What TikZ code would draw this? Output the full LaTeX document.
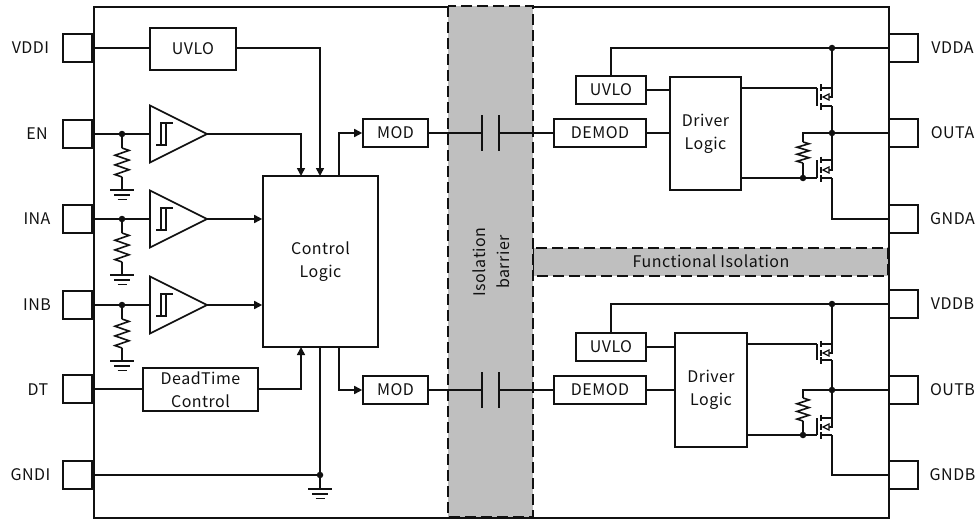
\documentclass[tikz,border=0pt]{standalone}
\usepackage{fontspec}
\setmainfont[LetterSpace=3]{Noto Sans CJK SC}
\usetikzlibrary{arrows.meta}
\definecolor{barrier}{HTML}{BFBFBF}
\definecolor{ink}{HTML}{111111}
\tikzset{
  wire/.style={draw=ink,line width=1.6pt},
  tipwire/.style={wire,-{Triangle[length=8pt,width=8pt]}},
  box/.style={draw=ink,line width=1.6pt,fill=white,inner sep=0pt,align=center,font=\fontsize{16}{23}\selectfont,text=ink},
  lbl/.style={inner sep=0pt,font=\fontsize{16}{23}\selectfont,text=ink,align=center},
  pin/.style={draw=ink,line width=1.6pt,inner sep=0pt,minimum width=29pt,minimum height=28pt},
  iso/.style={fill=barrier,draw=ink,line width=1.8pt,dash pattern=on 11pt off 5pt},
  dot/.style={circle,fill=ink,inner sep=0pt,minimum size=6.5pt}
}
% ground symbol at a named coordinate
\newcommand\gndsym[1]{%
  \draw[wire] ([xshift=-12pt]#1) -- ([xshift=12pt]#1);
  \draw[wire] ([xshift=-8pt,yshift=-5pt]#1) -- ([xshift=8pt,yshift=-5pt]#1);
  \draw[wire] ([xshift=-4.5pt,yshift=-9.5pt]#1) -- ([xshift=4.5pt,yshift=-9.5pt]#1);}
% comparator: name, centre y
\newcommand\comparator[2]{%
  \coordinate (#1in) at (150,#2);
  \coordinate (#1out) at (207,#2);
  \draw[wire,line join=miter] (150,#2-28.5) -- (207,#2) -- (150,#2+28.5) -- cycle;
  \draw[draw=ink,line width=1.3pt] (156,#2+11) -- (166,#2+11) -- (166,#2-11) -- (173,#2-11);
  \draw[draw=ink,line width=1.3pt] (161,#2+11) -- (161,#2-11) -- (166,#2-11);}
% resistor: x, top y, height, half width
\newcommand\vresistor[4]{%
  \draw[wire,line join=miter] (#1,#2) -- (#1+#4,#2+#3/12) -- (#1-#4,#2+#3*3/12) -- (#1+#4,#2+#3*5/12)
   -- (#1-#4,#2+#3*7/12) -- (#1+#4,#2+#3*9/12) -- (#1-#4,#2+#3*11/12) -- (#1,#2+#3);}
% mosfet: drain y, mid y, source y
\newcommand\mosfet[3]{%
  \draw[wire] (817,#1) -- (817,#3);
  \draw[wire] (821,#1-3.5) -- (821,#1+3);
  \draw[wire] (821,#2-3) -- (821,#2+3);
  \draw[wire] (821,#3-3) -- (821,#3+3.5);
  \draw[wire] (821,#1) -- (832,#1);
  \draw[wire] (821,#3) -- (832,#3);
  \draw[wire] (829,#2) -- (832,#2) -- (832,#1);
  \draw[draw=ink,line width=1.2pt,fill=white] (823,#2) -- (829,#2-3) -- (829,#2+3) -- cycle;}
\begin{document}
\begin{tikzpicture}[x=1pt,y=-1pt]
\useasboundingbox (0,0) rectangle (980,519);
% package outline and pins
\node[pin,anchor=east] (pVDDI) at (93,48) {};
\node[pin,anchor=east] (pEN) at (93,134) {};
\node[pin,anchor=east] (pINA) at (93,219) {};
\node[pin,anchor=east] (pINB) at (93,305) {};
\node[pin,anchor=east] (pDT) at (93,389) {};
\node[pin,anchor=east] (pGNDI) at (93,475) {};
\node[pin,anchor=west] (pVDDA) at (888,48) {};
\node[pin,anchor=west] (pOUTA) at (888,133) {};
\node[pin,anchor=west] (pGNDA) at (888,219) {};
\node[pin,anchor=west] (pVDDB) at (888,304) {};
\node[pin,anchor=west] (pOUTB) at (888,390) {};
\node[pin,anchor=west] (pGNDB) at (888,475) {};
\node[draw=ink,line width=1.6pt,fill=white,inner sep=0pt,minimum width=795pt,minimum height=511pt,anchor=north west] (pkg) at (93,6) {};
% barriers
\path[iso] (533,248) rectangle (888,276);
\path[iso] (448,6) rectangle (533,517);
% pin labels
\node[lbl] at (30.5,48) {VDDI};
\node[lbl] at (37,134) {EN};
\node[lbl] at (37,219) {INA};
\node[lbl] at (37,305) {INB};
\node[lbl] at (38,390) {DT};
\node[lbl] at (30.5,475) {GNDI};
\node[lbl] at (952.5,48) {VDDA};
\node[lbl] at (952.5,133) {OUTA};
\node[lbl] at (952.5,219) {GNDA};
\node[lbl] at (952.5,304) {VDDB};
\node[lbl] at (952.5,390) {OUTB};
\node[lbl] at (952.5,475) {GNDB};
\node[lbl] at (711,261) {Functional Isolation};
\node[lbl,rotate=90,font=\fontsize{16}{24}\selectfont] at (491,262) {Isolation\\barrier};
% blocks
\node[box,minimum width=86pt,minimum height=42pt] (uvloL) at (193,49) {UVLO};
\node[box,minimum width=115pt,minimum height=171pt] (ctrl) at (320.5,261.5) {Control\\Logic};
\node[box,minimum width=115pt,minimum height=43pt] (dead) at (200.5,389.5) {DeadTime\\Control};
\node[box,minimum width=65pt,minimum height=28pt] (modA) at (395.5,133) {MOD};
\node[box,minimum width=65pt,minimum height=28pt] (modB) at (395.5,390) {MOD};
\node[box,minimum width=92pt,minimum height=28pt] (demodA) at (600,133) {DEMOD};
\node[box,minimum width=92pt,minimum height=28pt] (demodB) at (600,390) {DEMOD};
\node[box,minimum width=70pt,minimum height=28pt] (uvloA) at (611,90) {UVLO};
\node[box,minimum width=70pt,minimum height=28pt] (uvloB) at (611,347) {UVLO};
\node[box,minimum width=71pt,minimum height=113pt] (drvA) at (705.5,133.5) {Driver\\Logic};
\node[box,minimum width=72pt,minimum height=114pt] (drvB) at (711,390) {Driver\\Logic};
% comparators
\comparator{cmpEN}{134}
\comparator{cmpINA}{219}
\comparator{cmpINB}{305}
% junctions and connector ends
\coordinate (inVDDI) at (93,48);
\coordinate (inEN) at (93,134);
\coordinate (inINA) at (93,219);
\coordinate (inINB) at (93,305);
\coordinate (inDT) at (93,389);
\coordinate (inGNDI) at (93,475);
\coordinate (outVDDA) at (888,48);
\coordinate (outOUTA) at (888,133);
\coordinate (outGNDA) at (888,219);
\coordinate (outVDDB) at (888,304);
\coordinate (outOUTB) at (888,390);
\coordinate (outGNDB) at (888,475);
\node[dot] (jEN) at (122,134) {};
\node[dot] (jINA) at (122,219) {};
\node[dot] (jINB) at (122,305) {};
\node[dot] (jGNDI) at (320,475) {};
\node[dot] (jVDDA) at (832,48) {};
\node[dot] (jOUTA) at (832,133) {};
\node[dot] (jGA) at (803,178) {};
\node[dot] (jVDDB) at (832,304) {};
\node[dot] (jOUTB) at (832,390) {};
\node[dot] (jGB) at (803,435) {};
\coordinate (gEN) at (122,190);
\coordinate (gINA) at (122,275);
\coordinate (gINB) at (122,361);
\coordinate (gCtrl) at (320,489);
\coordinate (ctrlTopA) at (301,176);
\coordinate (ctrlTopB) at (320,176);
\coordinate (ctrlTopC) at (339,176);
\coordinate (ctrlBotA) at (301,347);
\coordinate (ctrlBotB) at (320,347);
\coordinate (ctrlBotC) at (339,347);
\coordinate (capA1) at (482,133);
\coordinate (capA2) at (499,133);
\coordinate (capB1) at (482,390);
\coordinate (capB2) at (499,390);
% left inputs
\draw[wire] (inEN) -- (jEN) -- (cmpENin);
\draw[wire] (inINA) -- (jINA) -- (cmpINAin);
\draw[wire] (inINB) -- (jINB) -- (cmpINBin);
\draw[wire] (jEN) -- (122,148); \vresistor{122}{148}{29}{7} \draw[wire] (122,177) -- (gEN); \gndsym{gEN}
\draw[wire] (jINA) -- (122,233); \vresistor{122}{233}{29}{7} \draw[wire] (122,262) -- (gINA); \gndsym{gINA}
\draw[wire] (jINB) -- (122,319); \vresistor{122}{319}{29}{7} \draw[wire] (122,348) -- (gINB); \gndsym{gINB}
\draw[wire] (inVDDI) -- (uvloL.west |- inVDDI);
\draw[wire] (inDT) -- (dead.west |- inDT);
% into control logic
\draw[tipwire] (uvloL.east |- inVDDI) -| (ctrlTopB);
\draw[tipwire] (cmpENout) -| (ctrlTopA);
\draw[tipwire] (cmpINAout) -- (ctrl.west |- cmpINAout);
\draw[tipwire] (cmpINBout) -- (ctrl.west |- cmpINBout);
\draw[tipwire] (dead.east |- inDT) -| (ctrlBotA);
\draw[wire] (ctrlBotB) -- (gCtrl); \gndsym{gCtrl}
\draw[wire] (inGNDI) -- (jGNDI);
\draw[tipwire] (ctrlTopC) |- (modA.west);
\draw[tipwire] (ctrlBotC) |- (modB.west);
% capacitors
\draw[wire] (modA.east) -- (capA1);
\draw[wire] (capA2) -- (demodA.west |- capA2);
\draw[wire] (482,115) -- (482,151);
\draw[wire] (499,115) -- (499,151);
\draw[wire] (modB.east) -- (capB1);
\draw[wire] (capB2) -- (demodB.west |- capB2);
\draw[wire] (482,372) -- (482,408);
\draw[wire] (499,372) -- (499,408);
% right side A
\draw[wire] (uvloA.north) |- (jVDDA) -- (outVDDA);
\draw[wire] (uvloA.east) -- (drvA.west |- uvloA.east);
\draw[wire] (demodA.east) -- (drvA.west |- demodA.east);
\draw[wire] (drvA.east |- 0,88) -- (817,88);
\draw[wire] (drvA.east |- jGA) -- (jGA) -- (817,178);
\mosfet{88}{97}{106}
\mosfet{160}{170}{178}
\draw[wire] (jVDDA) -- (832,88);
\draw[wire] (832,106) -- (jOUTA) -- (832,160);
\draw[wire] (832,178) |- (outGNDA);
\draw[wire] (jGA) -- (803,163); \vresistor{803}{142}{21}{6}
\draw[wire] (803,142) |- (jOUTA) -- (outOUTA);
% right side B
\draw[wire] (uvloB.north) |- (jVDDB) -- (outVDDB);
\draw[wire] (uvloB.east) -- (drvB.west |- uvloB.east);
\draw[wire] (demodB.east) -- (drvB.west |- demodB.east);
\draw[wire] (drvB.east |- 0,344) -- (817,344);
\draw[wire] (drvB.east |- jGB) -- (jGB) -- (817,435);
\mosfet{344}{353}{360}
\mosfet{418}{427}{435}
\draw[wire] (jVDDB) -- (832,344);
\draw[wire] (832,360) -- (jOUTB) -- (832,418);
\draw[wire] (832,435) |- (outGNDB);
\draw[wire] (jGB) -- (803,421); \vresistor{803}{398}{23}{6}
\draw[wire] (803,398) |- (jOUTB) -- (outOUTB);
\end{tikzpicture}
\end{document}
